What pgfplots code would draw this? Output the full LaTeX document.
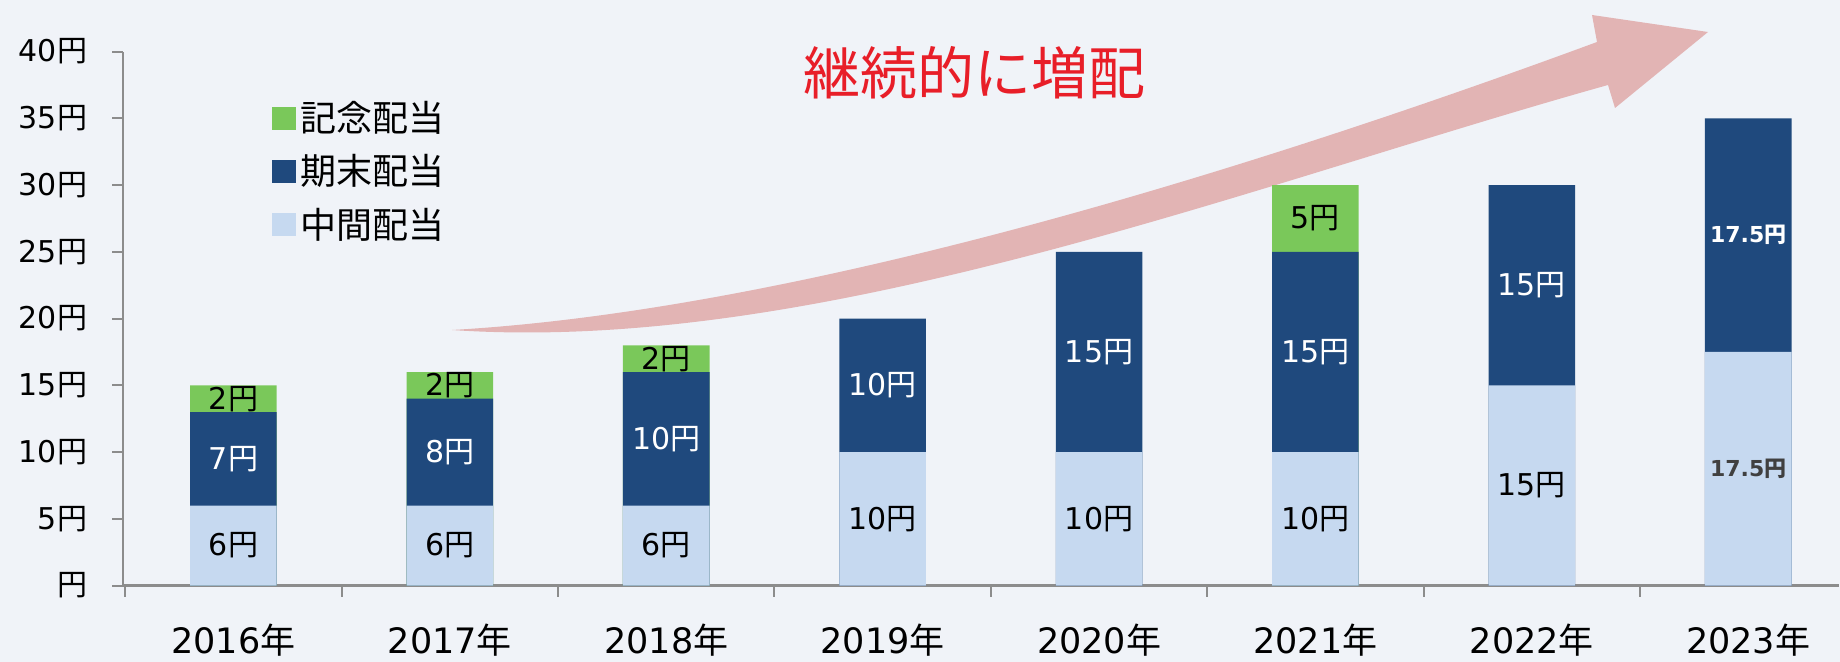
\documentclass[border=0pt]{standalone}
\usepackage{fontspec}
\usepackage{pgfplots}
\pgfplotsset{compat=1.18}
\setmainfont{DejaVu Sans}
\newfontfamily\cjk{Noto Sans CJK JP}
\definecolor{bgc}{RGB}{240,243,248}
\definecolor{lightb}{RGB}{198,217,240}
\definecolor{darkb}{RGB}{31,73,125}
\definecolor{greenb}{RGB}{122,200,90}
\definecolor{arrowc}{RGB}{226,180,180}
\definecolor{axisg}{RGB}{140,140,140}
\definecolor{titler}{RGB}{232,30,40}
\definecolor{labg}{RGB}{64,64,64}
\newcommand{\Y}{{\cjk 円}}
\newcommand{\N}{{\cjk 年}}
\begin{document}
\begin{tikzpicture}[x=0.5pt,y=-0.5pt]
\path[use as bounding box] (0,0) rectangle (1840,662);
\fill[bgc] (0,0) rectangle (1840,662);
\fill[arrowc] (452,330) .. controls (800,310) and (1250,170) .. (1597,42)
  -- (1592,15) -- (1708,32) -- (1615,108) -- (1608,85)
  .. controls (1250,185) and (820,355) .. (452,330) -- cycle;
\begin{axis}[
  at={(61.55pt,-292.8pt)}, anchor=south west,
  scale only axis, width=858pt, height=267pt,
  xmin=-0.51, xmax=7.42, ymin=0, ymax=40,
  axis x line*=bottom, axis y line*=left,
  axis line style={-, draw=axisg, line width=1.3pt},
  ytick={0,5,...,40},
  yticklabels={\Y,5\Y,10\Y,15\Y,20\Y,25\Y,30\Y,35\Y,40\Y},
  xtick={0,...,7},
  xticklabels={2016\N,2017\N,2018\N,2019\N,2020\N,2021\N,2022\N,2023\N},
  minor xtick={-0.5,0.5,...,6.5},
  tick align=outside,
  major tick length=5.5pt, minor tick length=5.5pt,
  tick style={draw=axisg, line width=1pt},
  every major x tick/.append style={draw=none},
  yticklabel style={font=\fontsize{15}{18}\selectfont, anchor=east, xshift=-9pt},
  xticklabel style={font=\fontsize{17.5}{20}\selectfont, anchor=center, yshift=-22pt},
  title={継続的に増配},
  title style={at={(0.496,0.938)}, anchor=center, font=\cjk\fontsize{28.5}{32}\selectfont, text=titler},
  legend style={at={(0.0868,0.915)}, anchor=north west, draw=none, fill=none,
    font=\cjk\fontsize{18}{21}\selectfont, row sep=6pt, inner sep=0pt,
    cells={anchor=west}},
]
\addplot[ybar, bar width=0.4, bar shift=0pt, fill=greenb, draw=none,
  legend image code/.code={\fill[greenb] (0pt,-5.75pt) rectangle (12pt,5.75pt);}]
  coordinates {(0,15) (1,16) (2,18) (5,30)};
\addlegendentry{記念配当}
\addplot[ybar, bar width=0.4, bar shift=0pt, fill=darkb, draw=none,
  legend image code/.code={\fill[darkb] (0pt,-5.75pt) rectangle (12pt,5.75pt);}]
  coordinates {(0,13) (1,14) (2,16) (3,20) (4,25) (5,25) (6,30) (7,35)};
\addlegendentry{期末配当}
\addplot[ybar, bar width=0.4, bar shift=0pt, fill=lightb, draw=none,
  legend image code/.code={\fill[lightb] (0pt,-5.75pt) rectangle (12pt,5.75pt);}]
  coordinates {(0,6) (1,6) (2,6) (3,10) (4,10) (5,10) (6,15) (7,17.5)};
\addlegendentry{中間配当}
% labels, black
\addplot[draw=none, mark=none, forget plot, point meta=explicit symbolic,
  nodes near coords={\pgfplotspointmeta\Y},
  nodes near coords style={anchor=center, font=\fontsize{15}{18}\selectfont, text=black}]
  coordinates {(0,3)[6] (1,3)[6] (2,3)[6] (3,5)[10] (4,5)[10] (5,5)[10] (6,7.5)[15]
               (0,14)[2] (1,15)[2] (2,17)[2] (5,27.5)[5]};
% labels, white
\addplot[draw=none, mark=none, forget plot, point meta=explicit symbolic,
  nodes near coords={\pgfplotspointmeta\Y},
  nodes near coords style={anchor=center, font=\fontsize{15}{18}\selectfont, text=white}]
  coordinates {(0,9.5)[7] (1,10)[8] (2,11)[10] (3,15)[10] (4,17.5)[15] (5,17.5)[15] (6,22.5)[15]};
% 2023 bold labels
\addplot[draw=none, mark=none, forget plot, point meta=explicit symbolic,
  nodes near coords={\pgfplotspointmeta{\cjk\bfseries 円}},
  nodes near coords style={anchor=center, font=\bfseries\fontsize{11}{13}\selectfont, text=white}]
  coordinates {(7,26.25)[17.5]};
\addplot[draw=none, mark=none, forget plot, point meta=explicit symbolic,
  nodes near coords={\pgfplotspointmeta{\cjk\bfseries 円}},
  nodes near coords style={anchor=center, font=\bfseries\fontsize{11}{13}\selectfont, text=labg}]
  coordinates {(7,8.75)[17.5]};
\end{axis}
\end{tikzpicture}
\end{document}
